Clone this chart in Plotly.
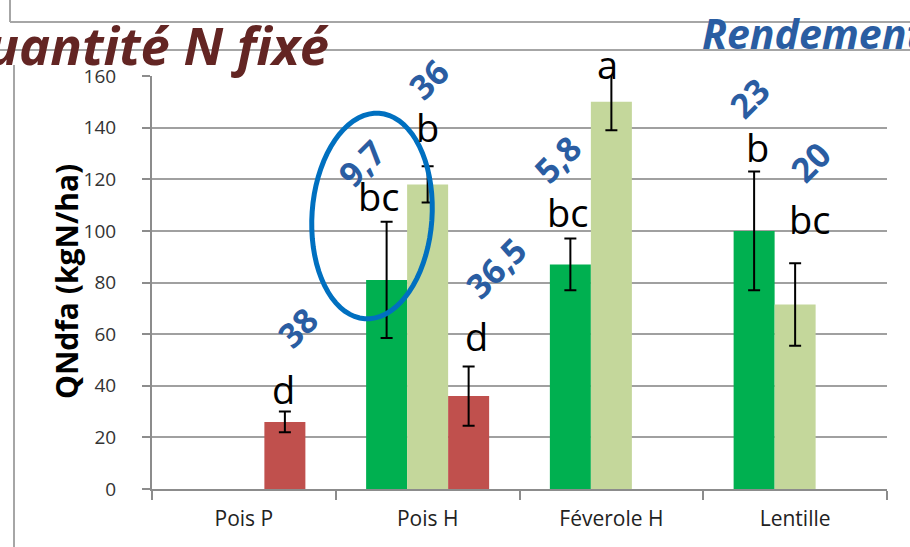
import numpy as np
import plotly.graph_objects as go

# --- data -----------------------------------------------------------------
categories = ["Pois P", "Pois H", "Féverole H", "Lentille"]

qndfa_green = [None, 81, 87, 100]
err_green = [0, 22.5, 10, 23]
qndfa_light = [None, 118, 150, 71.5]
err_light = [0, 7, 11, 16]
qndfa_red = [26, 36, None, None]
err_red = [4, 11.5, 0, 0]

letters_green = [None, "bc", "bc", "b"]
letters_light = [None, "b", "a", "bc"]
letters_red = ["d", "d", None, None]

yield_green = [None, "9,7", "5,8", "23"]
yield_light = [None, "36", "30", "20"]
yield_red = ["38", "36,5", None, None]

y_ticks = [0, 20, 40, 60, 80, 100, 120, 140, 160]

# --- label placement (data-y of the letter baseline, pixel nudges) ----------
letter_y = {
    0: [None, 107.4, 101.1, 126.2],
    1: [None, 134.1, 158.5, 98.4],
    2: [32.5, 53.2, None, None],
}
letter_dx = {
    0: [0, -8, -3, 3],
    1: [0, 0, -4, 14],
    2: [-1, 8, 0, 0],
}
yield_y = {
    0: [None, 126.3, 127.9, 151.5],
    1: [None, 158.9, 178.6, 126.7],
    2: [62.8, 85.6, None, None],
}
yield_dx = {
    0: [0, -25, -13, -5],
    1: [0, 1, -10, 15],
    2: [13, 27, 0, 0],
}

# --- geometry ---------------------------------------------------------------
W, H = 910, 547
ML, MR, MT, MB = 152, 23, 76, 58
PW, PH = W - ML - MR, H - MT - MB
BARGAP = 0.3306
SLOT = (1 - BARGAP) / 3

FONT = "'Open Sans', Lato, sans-serif"
C_GREEN = "#00B050"
C_LIGHT = "#C4D79B"
C_RED = "#C0504D"
C_BLUE = "#2A5DA2"
C_GRID = "#A0A0A0"
C_AXIS = "#8C8C8C"


def px_x(px):
    return (px - ML) / PW


def px_y(py):
    return (H - MB - py) / PH


fig = go.Figure()
for vals, errs, col in [
    (qndfa_green, err_green, C_GREEN),
    (qndfa_light, err_light, C_LIGHT),
    (qndfa_red, err_red, C_RED),
]:
    fig.add_trace(
        go.Bar(
            x=categories,
            y=vals,
            marker=dict(color=col, line=dict(width=0)),
            error_y=dict(type="data", array=errs, visible=True,
                         color="black", thickness=2, width=6),
            showlegend=False,
            hoverinfo="skip",
        )
    )

annotations = []
# significance letters and yield numbers above each bar
for s, (letters, yields) in enumerate([
    (letters_green, yield_green),
    (letters_light, yield_light),
    (letters_red, yield_red),
]):
    for i in range(len(categories)):
        xc = i + (s - 1) * SLOT
        if letters[i]:
            annotations.append(dict(
                x=xc, y=letter_y[s][i], xref="x", yref="y",
                text=letters[i], showarrow=False,
                xanchor="center", yanchor="bottom",
                xshift=letter_dx[s][i], yshift=-12,
                font=dict(family=FONT, size=38, color="black"),
            ))
        if yields[i]:
            annotations.append(dict(
                x=xc, y=yield_y[s][i], xref="x", yref="y",
                text="<b>%s</b>" % yields[i], showarrow=False,
                xanchor="center", yanchor="middle",
                xshift=yield_dx[s][i], textangle=-45,
                font=dict(family=FONT, size=34, color=C_BLUE),
            ))

# headings
annotations.append(dict(
    x=px_x(331), y=px_y(82), xref="paper", yref="paper",
    text="<b><i>Quantité N fixé</i></b>", showarrow=False,
    xanchor="right", yanchor="bottom",
    font=dict(family=FONT, size=52.5, color="#632523"),
))
annotations.append(dict(
    x=px_x(700), y=px_y(63), xref="paper", yref="paper",
    text="<b><i>Rendement</i></b>", showarrow=False,
    xanchor="left", yanchor="bottom",
    font=dict(family=FONT, size=41, color=C_BLUE),
))
# y-axis title
annotations.append(dict(
    x=px_x(66), y=px_y(282), xref="paper", yref="paper",
    text="<b>QNdfa (kgN/ha)</b>", showarrow=False,
    xanchor="center", yanchor="middle", textangle=-90,
    font=dict(family=FONT, size=30, color="black"),
))

# highlight ellipse around the Pois H bars
cx, cy, ra, rb, th = 372, 216, 60, 103, np.deg2rad(4)
t = np.linspace(0, 2 * np.pi, 73)
ex = ra * np.cos(t) * np.cos(th) - rb * np.sin(t) * np.sin(th) + cx
ey = ra * np.cos(t) * np.sin(th) + rb * np.sin(t) * np.cos(th) + cy
path = "M " + " L ".join("%.5f,%.5f" % (px_x(a), px_y(b)) for a, b in zip(ex, ey)) + " Z"

shapes = [
    dict(type="path", path=path, xref="paper", yref="paper",
         line=dict(color="#0070C0", width=5), layer="above"),
    # slide frame lines
    dict(type="line", xref="paper", yref="paper",
         x0=px_x(10), y0=px_y(-5), x1=px_x(10), y1=px_y(22),
         line=dict(color="#A6A6A6", width=2), layer="below"),
    dict(type="line", xref="paper", yref="paper",
         x0=px_x(10), y0=px_y(22), x1=px_x(915), y1=px_y(22),
         line=dict(color="#A6A6A6", width=2), layer="below"),
    dict(type="line", xref="paper", yref="paper",
         x0=px_x(-5), y0=px_y(50), x1=px_x(915), y1=px_y(50),
         line=dict(color="#A6A6A6", width=2), layer="below"),
    dict(type="line", xref="paper", yref="paper",
         x0=px_x(14), y0=px_y(65), x1=px_x(14), y1=px_y(550),
         line=dict(color="#A6A6A6", width=2), layer="below"),
]

fig.update_layout(
    width=W, height=H,
    margin=dict(l=ML, r=MR, t=MT, b=MB, pad=0),
    paper_bgcolor="white", plot_bgcolor="white",
    barmode="group", bargap=BARGAP, bargroupgap=0,
    annotations=annotations, shapes=shapes,
    font=dict(family=FONT),
)
fig.update_xaxes(
    type="category",
    showline=True, linecolor=C_AXIS, linewidth=2,
    ticks="outside", tickson="boundaries", ticklen=9,
    tickcolor=C_AXIS, tickwidth=2,
    tickfont=dict(family=FONT, size=21, color="#222222"),
    ticklabelstandoff=10,
    showgrid=False,
)
fig.update_yaxes(
    range=[0, 160], tickvals=y_ticks,
    showline=True, linecolor=C_AXIS, linewidth=2,
    ticks="outside", ticklen=8, tickcolor=C_AXIS, tickwidth=2,
    tickfont=dict(family=FONT, size=19, color="#333333"),
    ticklabelstandoff=22,
    showgrid=True, gridcolor=C_GRID, gridwidth=2,
    zeroline=False,
)

fig.write_html("out.html")
